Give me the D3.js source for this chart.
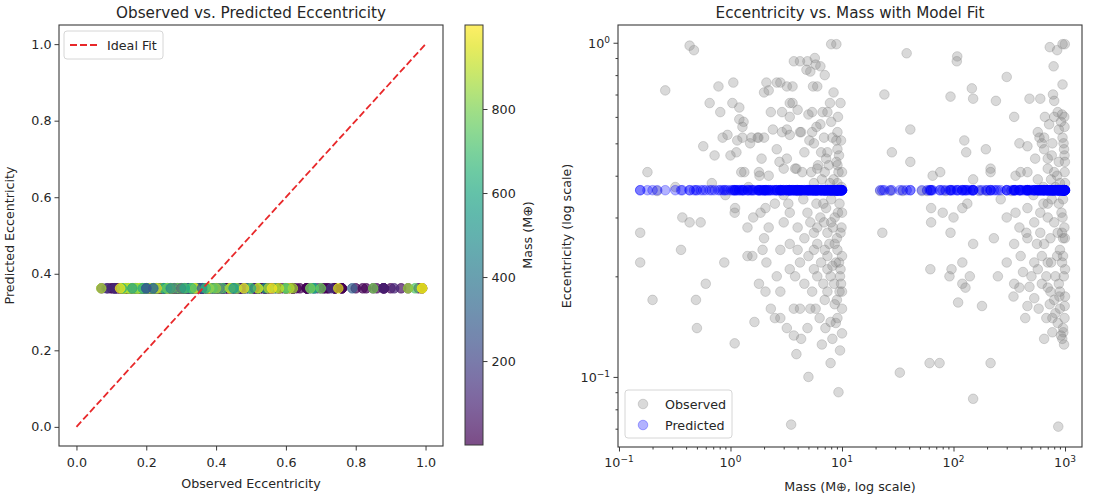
<!DOCTYPE html>
<html><head><meta charset="utf-8">
<script src="https://cdn.jsdelivr.net/npm/d3@7"></script>
<style>
body{margin:0;background:#fff}
svg{display:block}
text{font-family:"DejaVu Sans",sans-serif;fill:#262626}
</style>
</head><body>
<svg id="c" width="1094" height="503"></svg>
<script>
// ---------- DATA (mass in Earth masses, observed eccentricity) ----------
const observedLow = [
[0.43,0.98],[0.47,0.95],[0.26,0.72],[0.78,0.74],[1.06,0.76],[2.2,0.72],[0.65,0.66],[0.81,0.62],[1.04,0.66],[1.2,0.64],
[1.31,0.58],[1.28,0.56],[0.94,0.53],[1.15,0.51],[1.5,0.50],[1.75,0.52],[2.0,0.52],[0.57,0.49],[0.72,0.46],[1.0,0.46],
[1.13,0.47],[1.33,0.41],[1.82,0.40],[0.18,0.41],[1.1,0.32],[1.09,0.31],[0.37,0.30],[0.43,0.29],[0.54,0.29],[1.42,0.28],
[1.86,0.31],[2.06,0.32],[0.155,0.27],[2.0,0.26],[0.155,0.22],[0.36,0.24],[0.88,0.22],[0.6,0.19],[0.2,0.17],[0.49,0.17],
[0.5,0.14],[1.09,0.126],[1.64,0.146],[1.8,0.19],[2.06,0.18],[2.3,0.16],[1.42,0.23],[1.57,0.23],[1.94,0.24],[2.1,0.22],
[8.9,0.99],[4.2,0.88],[5.7,0.9],[6.4,0.85],[5.2,0.82],[2.8,0.76],[3.6,0.74],[5.5,0.74],[6.0,0.74],[3.6,0.66],
[4.0,0.63],[3.4,0.6],[5.4,0.62],[7.4,0.62],[6.4,0.57],[3.2,0.55],[4.2,0.54],[5.1,0.51],[5.6,0.5],[9.1,0.54],
[9.8,0.51],[7.4,0.47],[3.2,0.45],[3.8,0.42],[4.4,0.41],[6.0,0.42],[7.0,0.41],[9.1,0.43],[10,0.41],[3.0,0.42],
[3.4,0.31],[4.9,0.31],[6.4,0.30],[8.6,0.30],[10,0.31],[4,0.28],[5.6,0.27],[7.4,0.27],[9.7,0.27],[3,0.29],
[2.8,0.24],[3.4,0.25],[4,0.24],[5.6,0.24],[7.4,0.23],[9.1,0.24],[10,0.23],[6,0.25],[3.4,0.21],[5.6,0.21],
[9.7,0.21],[4.2,0.22],[2.8,0.18],[6,0.2],[7.9,0.2],[7.4,0.18],[9.5,0.18],[10,0.18],[4.2,0.16],[5.2,0.16],
[5.8,0.16],[10,0.16],[9.1,0.15],[7.1,0.14],[7.9,0.146],[8.2,0.13],[10,0.135],[2.8,0.15],[3.7,0.133],[4.3,0.13],
[3.9,0.117],[7.9,0.11],[5.0,0.1],[9.3,0.09],[3.5,0.072],[2.5,0.15],[3.2,0.14],[3.7,0.16],
[1.2,0.59],[0.85,0.52],[1.28,0.52],[1.54,0.52],[1.78,0.52],[2.0,0.71],[2.1,0.76],[2.6,0.76],[3.2,0.74],[3.7,0.88],
[4.9,0.88],[4.8,0.83],[5.8,0.86],[8.0,0.99],[2.3,0.62],[2.9,0.62],[3.4,0.66],[5.0,0.61],[4.3,0.54],[2.9,0.54],
[3.4,0.53],[5.4,0.54],[6.7,0.62],[8.0,0.58],[8.9,0.51],[9.1,0.48],[6.5,0.47],[7.2,0.45],[5.9,0.56],[1.25,0.41],
[1.8,0.41],[2.2,0.40],[2.75,0.44],[3.9,0.42],[5.3,0.41],[6.1,0.43],[8.9,0.44],[9.3,0.41],[9.1,0.38],
[3.3,0.33],[4.5,0.34],[6.8,0.33],[8.0,0.34],[9.5,0.33],[5.2,0.29],[6.9,0.29],[8.3,0.28],[9.0,0.26],[4.6,0.26],
[7.7,0.25],[8.8,0.22],[6.5,0.22],[5.0,0.23],[9.6,0.2],[8.5,0.19],[7.0,0.17],[9.0,0.17],[6.3,0.15],[2.5,0.33],
[2.2,0.28],[1.6,0.3],[2.6,0.2],[7.8,0.38],[8.7,0.36],[0.22,0.36],[0.32,0.37],[0.68,0.38],[0.9,0.35],[1.45,0.37],
[8.2,0.52],[9.4,0.46],[7.6,0.43],[6.6,0.39],[8.4,0.39],[9.9,0.37],[5.9,0.33],[7.2,0.32],[9.2,0.31],[8.0,0.29],
[6.0,0.28],[9.9,0.28],[8.6,0.25],[7.0,0.24],[9.4,0.22],[7.4,0.21],[8.2,0.215],[6.8,0.19],[9.8,0.19],[8.6,0.165],
[5.4,0.18],[4.6,0.19],[3.8,0.2],[4.9,0.14],[6.6,0.125],[9.6,0.12],[8.8,0.145],[3.0,0.35],[4.0,0.36],[5.6,0.38],
[6.9,0.52],[7.8,0.66],[8.4,0.71],[9.2,0.6],[4.6,0.47],[2.6,0.48],[1.9,0.45],[2.4,0.55],[7.0,0.8],[9.7,0.66]
];
const observedHigh = [
[38,0.93],[24,0.7],[41,0.55],[28,0.47],[41,0.44],[63,0.32],[63,0.29],[23,0.27],[62,0.21],[61,0.11],
[33,0.103],[65,0.4],[108,0.91],[107,0.88],[300,0.79],[94,0.69],[146,0.73],[150,0.68],[240,0.67],[350,0.6],
[480,0.68],[600,0.68],[800,0.67],[730,0.97],[850,0.95],[995,0.99],[950,0.99],[790,0.85],[800,0.6],[940,0.61],
[985,0.6],[570,0.54],[590,0.52],[650,0.52],[390,0.5],[460,0.49],[650,0.48],[770,0.5],[970,0.5],[990,0.46],
[998,0.44],[125,0.51],[130,0.47],[195,0.48],[76,0.41],[215,0.42],[215,0.41],[460,0.41],[570,0.39],[700,0.42],
[800,0.41],[992,0.41],[150,0.39],[360,0.4],[400,0.41],[120,0.32],[133,0.33],[80,0.31],[100,0.3],[360,0.31],
[460,0.32],[530,0.29],[700,0.3],[800,0.29],[930,0.31],[987,0.28],[265,0.34],[390,0.28],[600,0.27],[230,0.26],
[94,0.27],[940,0.27],[150,0.25],[350,0.25],[460,0.26],[650,0.25],[996,0.26],[960,0.26],[96,0.21],[120,0.22],
[92,0.2],[140,0.2],[120,0.19],[128,0.185],[110,0.167],[180,0.163],[420,0.206],[530,0.22],[570,0.21],[350,0.19],
[390,0.185],[480,0.186],[345,0.174],[530,0.172],[460,0.163],[440,0.15],[700,0.185],[740,0.18],[900,0.18],[940,0.22],
[1000,0.21],[975,0.2],[730,0.165],[770,0.15],[680,0.15],[820,0.155],[999,0.174],[993,0.163],[990,0.15],[965,0.136],
[920,0.133],[945,0.13],[770,0.136],[890,0.174],[215,0.11],[150,0.086],[870,0.071],[75,0.11],
[850,0.23],[900,0.24],[750,0.22],[620,0.23],[820,0.2],[880,0.19],[680,0.2],[560,0.25],[950,0.3],[880,0.33],
[760,0.34],[640,0.33],[520,0.35],[900,0.38],[850,0.4],[700,0.45],[880,0.55],[950,0.52],[720,0.57],[660,0.6],
[1000,0.38],[400,0.23],[300,0.3],[22,0.36],[27,0.36],[35,0.36],[52,0.36],[58,0.36],[85,0.36],[170,0.36],[200,0.36],
[620,0.5],[760,0.46],[880,0.44],[980,0.48],[540,0.45],[820,0.37],[960,0.34],[700,0.33],[600,0.31],[860,0.27],
[740,0.26],[960,0.23],[700,0.22],[800,0.17],[900,0.16],[960,0.14],[860,0.145],[620,0.19],[580,0.16],[650,0.13],
[980,0.125],[500,0.2],[450,0.27],[300,0.22],[250,0.2],[920,0.58],[990,0.56],[860,0.62],[780,0.7],[950,0.75],
[330,0.36],[640,0.37],[750,0.39]
];
const predictedEcc = 0.362;           // model output (constant)
const idealFit = [[0,0],[1,1]];
const leftTicks = [0,0.2,0.4,0.6,0.8,1.0];
const colorbarTicks = [200,400,600,800];
const massDecades = [-1,0,1,2,3];
const eccDecades = [-1,0];

const observed = observedLow.concat(observedHigh);

// ---------- SETUP ----------
const svg = d3.select('#c');
const FS = 12.7, TFS = 15.2;
const axisColor = '#3a3a3a';

function styleAxis(g){
  g.select('.domain').remove();
  g.selectAll('.tick line').attr('stroke', axisColor).attr('stroke-width', 1);
  g.selectAll('.tick text').style('font-size', FS + 'px').attr('fill', '#262626');
}

// ---------- LEFT PANEL ----------
const L = {x0:59, x1:443, y0:25, y1:446};
const xL = d3.scaleLinear().domain([-0.05, 1.05]).range([L.x0, L.x1]);
const yL = d3.scaleLinear().domain([-0.05, 1.05]).range([L.y1, L.y0]);
const massExtent = d3.extent(observed, d => d[0]);
const color = d3.scaleSequential(d3.interpolateViridis).domain(massExtent);

const gL = svg.append('g');
gL.append('g').selectAll('circle').data(observed).join('circle')
  .attr('cx', d => xL(d[1])).attr('cy', yL(predictedEcc)).attr('r', 4.8)
  .attr('fill', d => color(d[0])).attr('fill-opacity', 0.7)
  .attr('stroke', d => color(d[0])).attr('stroke-opacity', 0.7).attr('stroke-width', 1);

gL.append('path').datum(idealFit)
  .attr('d', d3.line().x(d => xL(d[0])).y(d => yL(d[1])))
  .attr('fill', 'none').attr('stroke', '#e8282a').attr('stroke-width', 1.8)
  .attr('stroke-dasharray', '7,3');

gL.append('rect').attr('x', L.x0).attr('y', L.y0).attr('width', L.x1 - L.x0).attr('height', L.y1 - L.y0)
  .attr('fill', 'none').attr('stroke', axisColor).attr('stroke-width', 1.1);

gL.append('g').attr('transform', `translate(0,${L.y1})`)
  .call(d3.axisBottom(xL).tickValues(leftTicks).tickFormat(d3.format('.1f')).tickSize(4.5).tickPadding(7))
  .call(styleAxis);
gL.append('g').attr('transform', `translate(${L.x0},0)`)
  .call(d3.axisLeft(yL).tickValues(leftTicks).tickFormat(d3.format('.1f')).tickSize(4.5).tickPadding(3))
  .call(styleAxis);

gL.append('text').attr('x', (L.x0 + L.x1) / 2).attr('y', 18).attr('text-anchor', 'middle')
  .style('font-size', TFS + 'px').text('Observed vs. Predicted Eccentricity');
gL.append('text').attr('x', (L.x0 + L.x1) / 2).attr('y', 488).attr('text-anchor', 'middle')
  .style('font-size', FS + 'px').text('Observed Eccentricity');
gL.append('text').attr('transform', `translate(14,${(L.y0 + L.y1) / 2}) rotate(-90)`).attr('text-anchor', 'middle')
  .style('font-size', FS + 'px').text('Predicted Eccentricity');

// legend left
const lg = gL.append('g');
lg.append('rect').attr('x', 64).attr('y', 31).attr('width', 99).attr('height', 28).attr('rx', 3)
  .attr('fill', '#fff').attr('fill-opacity', 0.8).attr('stroke', '#d6d6d6');
lg.append('line').attr('x1', 70).attr('x2', 97).attr('y1', 45).attr('y2', 45)
  .attr('stroke', '#e8282a').attr('stroke-width', 1.8).attr('stroke-dasharray', '7,3');
lg.append('text').attr('x', 107).attr('y', 49.5).style('font-size', FS + 'px').text('Ideal Fit');

// colorbar
const CB = {x0:465, x1:483, y0:25, y1:445};
const yCB = d3.scaleLinear().domain(massExtent).range([CB.y1, CB.y0]);
const defs = svg.append('defs');
const grad = defs.append('linearGradient').attr('id', 'vir').attr('x1', 0).attr('y1', 1).attr('x2', 0).attr('y2', 0);
d3.range(0, 1.0001, 0.05).forEach(t => grad.append('stop').attr('offset', t).attr('stop-color', d3.interpolateViridis(t)));
svg.append('rect').attr('x', CB.x0).attr('y', CB.y0).attr('width', CB.x1 - CB.x0).attr('height', CB.y1 - CB.y0)
  .attr('fill', 'url(#vir)').attr('fill-opacity', 0.7);
svg.append('rect').attr('x', CB.x0).attr('y', CB.y0).attr('width', CB.x1 - CB.x0).attr('height', CB.y1 - CB.y0)
  .attr('fill', 'none').attr('stroke', axisColor).attr('stroke-width', 1);
svg.append('g').attr('transform', `translate(${CB.x1},0)`)
  .call(d3.axisRight(yCB).tickValues(colorbarTicks).tickFormat(d3.format('d')).tickSize(4.5).tickPadding(4))
  .call(styleAxis);
svg.append('text').attr('transform', `translate(532,${(CB.y0 + CB.y1) / 2}) rotate(-90)`).attr('text-anchor', 'middle')
  .style('font-size', FS + 'px').text('Mass (M⊕)');

// ---------- RIGHT PANEL ----------
const R = {x0:618, x1:1082, y0:25, y1:447};
const xR = d3.scaleLog().domain([0.098, 1420]).range([R.x0, R.x1]);
const yR = d3.scaleLog().domain([0.0617, 1.13]).range([R.y1, R.y0]);
const gR = svg.append('g');

gR.append('g').selectAll('circle').data(observed).join('circle')
  .attr('cx', d => xR(d[0])).attr('cy', d => yR(d[1])).attr('r', 4.8)
  .attr('fill', '#808080').attr('fill-opacity', 0.3)
  .attr('stroke', '#808080').attr('stroke-opacity', 0.3).attr('stroke-width', 1);
gR.append('g').selectAll('circle').data(observed).join('circle')
  .attr('cx', d => xR(d[0])).attr('cy', yR(predictedEcc)).attr('r', 4.8)
  .attr('fill', '#0000ff').attr('fill-opacity', 0.3)
  .attr('stroke', '#0000ff').attr('stroke-opacity', 0.3).attr('stroke-width', 1);

gR.append('rect').attr('x', R.x0).attr('y', R.y0).attr('width', R.x1 - R.x0).attr('height', R.y1 - R.y0)
  .attr('fill', 'none').attr('stroke', axisColor).attr('stroke-width', 1.1);

const majX = massDecades.map(k => Math.pow(10, k));
const minX = [];
massDecades.forEach(k => { for (let m = 2; m <= 9; m++) { const v = m * Math.pow(10, k); if (v <= 1420) minX.push(v); } });
const majY = eccDecades.map(k => Math.pow(10, k));
const minY = [];
[-2, -1].forEach(k => { for (let m = 2; m <= 9; m++) { const v = m * Math.pow(10, k); if (v >= 0.0617 && v <= 1.13) minY.push(v); } });

gR.append('g').attr('transform', `translate(0,${R.y1})`)
  .call(d3.axisBottom(xR).tickValues(minX).tickFormat('').tickSize(2.5)).call(styleAxis);
gR.append('g').attr('transform', `translate(0,${R.y1})`)
  .call(d3.axisBottom(xR).tickValues(majX).tickFormat('').tickSize(4.5)).call(styleAxis);
gR.append('g').attr('transform', `translate(${R.x0},0)`)
  .call(d3.axisLeft(yR).tickValues(minY).tickFormat('').tickSize(2.5)).call(styleAxis);
gR.append('g').attr('transform', `translate(${R.x0},0)`)
  .call(d3.axisLeft(yR).tickValues(majY).tickFormat('').tickSize(4.5)).call(styleAxis);

function powLabel(sel, k) {
  sel.append('tspan').text('10');
  sel.append('tspan').attr('dy', -5).style('font-size', '9px').text(k < 0 ? '\u2212' + (-k) : String(k));
}
massDecades.forEach(k => {
  const t = gR.append('text').attr('x', xR(Math.pow(10, k))).attr('y', 467).attr('text-anchor', 'middle')
    .style('font-size', FS + 'px');
  powLabel(t, k);
});
eccDecades.forEach(k => {
  const t = gR.append('text').attr('x', R.x0 - 8).attr('y', yR(Math.pow(10, k)) + 5).attr('text-anchor', 'end')
    .style('font-size', FS + 'px');
  powLabel(t, k);
});

gR.append('text').attr('x', (R.x0 + R.x1) / 2).attr('y', 18).attr('text-anchor', 'middle')
  .style('font-size', TFS + 'px').text('Eccentricity vs. Mass with Model Fit');
gR.append('text').attr('x', (R.x0 + R.x1) / 2).attr('y', 491).attr('text-anchor', 'middle')
  .style('font-size', FS + 'px').text('Mass (M⊕, log scale)');
gR.append('text').attr('transform', `translate(571,${(R.y0 + R.y1) / 2}) rotate(-90)`).attr('text-anchor', 'middle')
  .style('font-size', FS + 'px').text('Eccentricity (log scale)');

// legend right
const rg = gR.append('g');
rg.append('rect').attr('x', 625).attr('y', 390).attr('width', 107).attr('height', 48).attr('rx', 3)
  .attr('fill', '#fff').attr('fill-opacity', 0.8).attr('stroke', '#d6d6d6');
rg.append('circle').attr('cx', 643).attr('cy', 404).attr('r', 4.8)
  .attr('fill', '#808080').attr('fill-opacity', 0.3).attr('stroke', '#808080').attr('stroke-opacity', 0.3);
rg.append('circle').attr('cx', 643).attr('cy', 425).attr('r', 4.8)
  .attr('fill', '#0000ff').attr('fill-opacity', 0.3).attr('stroke', '#0000ff').attr('stroke-opacity', 0.3);
rg.append('text').attr('x', 665).attr('y', 408.5).style('font-size', FS + 'px').text('Observed');
rg.append('text').attr('x', 665).attr('y', 429.5).style('font-size', FS + 'px').text('Predicted');
</script>
</body></html>
